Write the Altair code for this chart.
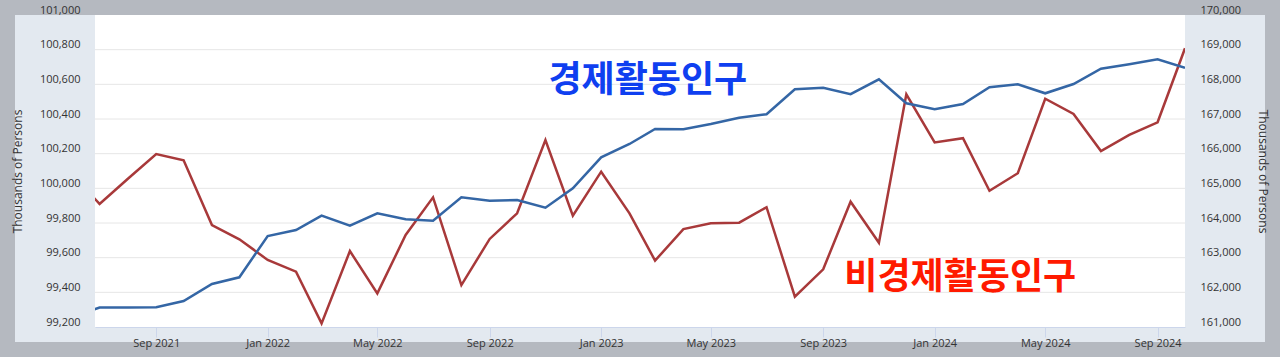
import altair as alt
import pandas as pd

# Monthly observations, Jun 2021 .. Oct 2024 (Jun 2021 sits just outside the visible range)
months = pd.date_range("2021-06-01", "2024-10-01", freq="MS").strftime("%Y-%m-%d").tolist()

# Civilian labor force (thousands of persons) - right axis, blue
labor_force = [
    161300,
    161560, 161565, 161570, 161750, 162240, 162434,
    163625, 163798, 164211, 163922, 164280, 164107, 164066, 164741, 164643, 164663, 164441, 165001,
    165895, 166279, 166712, 166703, 166856, 167038, 167136, 167857, 167903, 167715, 168145, 167453,
    167280, 167433, 167914, 168001, 167741, 168010, 168451, 168578, 168722, 168480,
]

# Not in labor force (thousands of persons) - left axis, red
not_in_lf = [
    100080,
    99910, 100055, 100198, 100162, 99788, 99706,
    99587, 99519, 99221, 99638, 99394, 99731, 99948, 99442, 99708, 99856, 100279, 99842,
    100096, 99856, 99583, 99765, 99798, 99802, 99891, 99375, 99533, 99923, 99686, 100542,
    100265, 100289, 99986, 100087, 100517, 100429, 100215, 100308, 100381, 100808,
]

left_ticks = [99200, 99400, 99600, 99800, 100000, 100200, 100400, 100600, 100800, 101000]
right_ticks = [161000, 162000, 163000, 164000, 165000, 166000, 167000, 168000, 169000, 170000]
grid_values = [99400, 99600, 99800, 100000, 100200, 100400, 100600, 100800]
x_tick_dates = [(2021, 9), (2022, 1), (2022, 5), (2022, 9), (2023, 1), (2023, 5),
                (2023, 9), (2024, 1), (2024, 5), (2024, 9)]

label_blue = {"text": "경제활동인구", "date": "2023-02-21", "value": 168100}
label_red = {"text": "비경제활동인구", "date": "2024-01-29", "value": 99480}

BLUE = "#3466a5"
RED = "#a8393a"
FONT = "Open Sans"

W, H = 1090, 312

df = pd.DataFrame({"date": months, "lf": labor_force, "nilf": not_in_lf})
grid_df = pd.DataFrame({"g": grid_values})
blue_df = pd.DataFrame([label_blue])
red_df = pd.DataFrame([label_red])
dummy = pd.DataFrame({"a": [0]})


def x_scale():
    return alt.Scale(type="utc",
                     domain=[alt.DateTime(year=2021, month=6, date=26, utc=True),
                             alt.DateTime(year=2024, month=10, date=1, utc=True)])


def left_scale():
    return alt.Scale(domain=[99200, 101000], nice=False, zero=False)


def right_scale():
    return alt.Scale(domain=[161000, 170000], nice=False, zero=False)


def x_axis():
    return alt.Axis(
        values=[alt.DateTime(year=y, month=m, date=1, utc=True) for y, m in x_tick_dates],
        format="%b %Y", title=None, grid=False, labelFlush=False,
        labelColor="#333333", labelFont=FONT, labelFontSize=11, labelPadding=0,
        tickColor="#ccd6eb", tickSize=10, domainColor="#ccd6eb", zindex=1,
    )


left_axis = alt.Axis(
    orient="left", values=left_ticks, format=",d", grid=False, ticks=False, domain=False,
    labelPadding=15, labelColor="#333333", labelFont=FONT, labelFontSize=11,
    labelBaseline="alphabetic", labelOffset=-2,
    title="Thousands of Persons", titleFont=FONT, titleFontSize=12, titleFontWeight="normal",
    titleColor="#333333", titleX=-78, titleBaseline="middle", zindex=1,
)
right_axis = alt.Axis(
    orient="right", values=right_ticks, format=",d", grid=False, ticks=False, domain=False,
    labelPadding=15, labelColor="#333333", labelFont=FONT, labelFontSize=11,
    labelBaseline="alphabetic", labelOffset=-2,
    title="Thousands of Persons", titleFont=FONT, titleFontSize=12, titleFontWeight="normal",
    titleColor="#333333", titleX=77, titleBaseline="middle", zindex=1,
)

panel = alt.Chart(dummy).mark_rect(color="#e3e9f0").encode(
    x=alt.value(-80), x2=alt.value(W + 80), y=alt.value(0), y2=alt.value(H + 15)
)
plot_bg = alt.Chart(dummy).mark_rect(color="white").encode(
    x=alt.value(0), x2=alt.value(W), y=alt.value(0), y2=alt.value(H)
)

grid = alt.Chart(grid_df).mark_rule(color="#e6e6e6", strokeWidth=1).encode(
    y=alt.Y("g:Q", scale=left_scale(), axis=None)
)
red_line = alt.Chart(df).mark_line(color=RED, strokeWidth=2.5, clip=True).encode(
    x=alt.X("date:T", scale=x_scale(), axis=x_axis()),
    y=alt.Y("nilf:Q", scale=left_scale(), axis=left_axis),
)
red_text = alt.Chart(red_df).mark_text(
    color="#ff1a00", font="Noto Sans CJK KR", fontWeight="bold", fontSize=36,
    align="center", baseline="middle"
).encode(
    x=alt.X("date:T", scale=x_scale(), axis=x_axis()),
    y=alt.Y("value:Q", scale=left_scale(), axis=None),
    text="text:N",
)
blue_line = alt.Chart(df).mark_line(color=BLUE, strokeWidth=2.5, clip=True).encode(
    x=alt.X("date:T", scale=x_scale(), axis=x_axis()),
    y=alt.Y("lf:Q", scale=right_scale(), axis=right_axis),
)
blue_text = alt.Chart(blue_df).mark_text(
    color="#0f3ff0", font="Noto Sans CJK KR", fontWeight="bold", fontSize=36,
    align="center", baseline="middle"
).encode(
    x=alt.X("date:T", scale=x_scale(), axis=x_axis()),
    y=alt.Y("value:Q", scale=right_scale(), axis=None),
    text="text:N",
)

chart = alt.layer(panel, plot_bg, grid, red_line, blue_line, blue_text, red_text).resolve_scale(
    y="independent"
).properties(
    width=W, height=H,
    autosize=alt.AutoSizeParams(type="none"),
    padding={"left": 95, "top": 15, "right": 95, "bottom": 30},
    background="#b5b9c0",
).configure_view(stroke=None)

chart.save("out.html", embed_options={"renderer": "svg", "actions": False})
